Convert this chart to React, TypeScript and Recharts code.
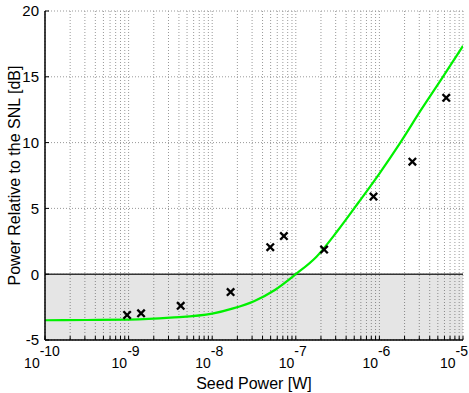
import {
    ComposedChart,
    Line,
    Scatter,
    XAxis,
    YAxis,
    CartesianGrid,
    ReferenceArea,
    ReferenceLine
} from "recharts";

// model curve: seed power [W] vs dB over SNL
const curvePower = [1e-10, 3.16e-10, 1e-9, 3.16e-9, 1e-8, 1.78e-8, 3.16e-8, 5.62e-8, 1e-7, 1.78e-7, 3.16e-7, 5.62e-7, 1e-6, 1.78e-6, 3.16e-6, 5.62e-6, 1e-5];
const curveDb = [-3.5, -3.48, -3.45, -3.3, -3.0, -2.6, -2.05, -1.2, 0, 1.35, 3.3, 5.45, 7.65, 10.0, 12.5, 14.9, 17.35];

// measured points (x markers)
const measPower = [9.6e-10, 1.41e-9, 4.2e-9, 1.66e-8, 4.95e-8, 7.2e-8, 2.18e-7, 8.5e-7, 2.48e-6, 6.3e-6];
const measDb = [-3.1, -2.97, -2.4, -1.36, 2.05, 2.9, 1.87, 5.9, 8.55, 13.4];

const decades = [1e-10, 1e-9, 1e-8, 1e-7, 1e-6, 1e-5];
const yTicks = [-5, 0, 5, 10, 15, 20];

const xTicks: number[] = [];
decades.forEach((d, i) => {
    if (i === decades.length - 1) {
        xTicks.push(d);
        return;
    }
    for (let m = 1; m <= 9; m++) xTicks.push(m * d);
});

const curve = curvePower.map((p, i) => ({ p, db: curveDb[i] }));
const meas = measPower.map((p, i) => ({ p, db: measDb[i] }));

const FONT = "'Liberation Sans', Arial, Helvetica, sans-serif";

const isDecade = (v: number) => {
    const l = Math.log10(v);
    return Math.abs(l - Math.round(l)) < 1e-6;
};

const PowerTick = (props: any) => {
    const { x, payload } = props;
    if (!isDecade(payload.value)) return null;
    const exp = Math.round(Math.log10(payload.value));
    // last label sits against the right edge, keep it inside
    const cx = Math.min(x - 3, 454);
    return (
        <text x={cx} y={368} textAnchor="middle" fontFamily={FONT} fontSize={14} fill="#000">
            <tspan>10</tspan>
            <tspan dy={-12} fontSize={14}>{exp}</tspan>
        </text>
    );
};

const Cross = (props: any) => {
    const { cx, cy } = props;
    const r = 3.7;
    return (
        <g stroke="#000" strokeWidth={2.3}>
            <line x1={cx - r} y1={cy - r} x2={cx + r} y2={cy + r} />
            <line x1={cx - r} y1={cy + r} x2={cx + r} y2={cy - r} />
        </g>
    );
};

const axisLine = { stroke: "#000", strokeWidth: 1.5 };

export default function App() {
    return (
        <div style={{ position: "absolute", left: 0, top: 0, width: 469, height: 393, background: "#fff" }}>
            <ComposedChart
                width={469}
                height={393}
                data={curve}
                margin={{ top: 11, right: 6, bottom: 0, left: 0 }}
            >
                <CartesianGrid stroke="#999" strokeDasharray="1 2" />
                <ReferenceArea y1={-5} y2={0} fill="#000" fillOpacity={0.1} stroke="none" ifOverflow="visible" />
                <ReferenceLine y={0} stroke="#333" strokeWidth={1.5} />
                <XAxis
                    dataKey="p"
                    type="number"
                    scale="log"
                    domain={[1e-10, 1e-5]}
                    ticks={xTicks}
                    interval={0}
                    allowDataOverflow
                    height={53}
                    axisLine={axisLine}
                    tickLine={{ stroke: "#000" }}
                    tickSize={-4}
                    tick={<PowerTick />}
                    label={{ value: "Seed Power [W]", position: "insideBottom", offset: 4, fill: "#000", fontSize: 16, fontFamily: FONT }}
                />
                <XAxis
                    xAxisId="top"
                    orientation="top"
                    type="number"
                    scale="log"
                    domain={[1e-10, 1e-5]}
                    ticks={decades}
                    allowDataOverflow
                    height={0}
                    axisLine={axisLine}
                    tickLine={{ stroke: "#000" }}
                    tickSize={-4}
                    tick={false}
                />
                <YAxis
                    type="number"
                    domain={[-5, 20]}
                    ticks={yTicks}
                    width={45}
                    axisLine={axisLine}
                    tickLine={{ stroke: "#000" }}
                    tickSize={-4}
                    tickMargin={10}
                    tick={{ fill: "#000", fontSize: 15, fontFamily: FONT }}
                    label={{ value: "Power Relative to the SNL [dB]", angle: -90, position: "insideLeft", offset: 14, style: { textAnchor: "middle" }, fill: "#000", fontSize: 16, fontFamily: FONT }}
                />
                <YAxis
                    yAxisId="right"
                    orientation="right"
                    type="number"
                    domain={[-5, 20]}
                    ticks={yTicks}
                    width={0}
                    axisLine={axisLine}
                    tickLine={{ stroke: "#000" }}
                    tickSize={-4}
                    tick={false}
                />
                <Line
                    type="monotone"
                    dataKey="db"
                    stroke="#00f000"
                    strokeWidth={2.2}
                    dot={false}
                    isAnimationActive={false}
                />
                <Scatter
                    data={meas}
                    dataKey="db"
                    shape={<Cross />}
                    isAnimationActive={false}
                />
            </ComposedChart>
        </div>
    );
}
